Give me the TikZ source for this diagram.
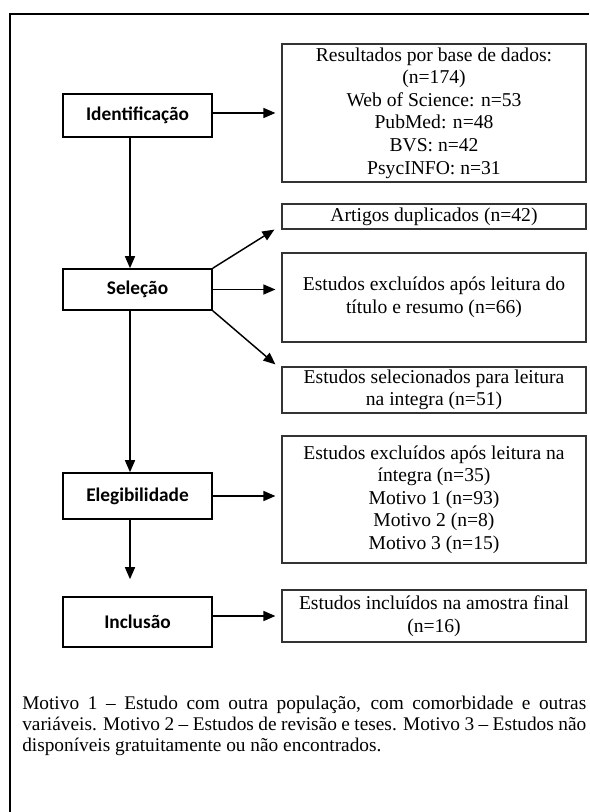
\documentclass[tikz,border=0pt]{standalone}
\usepackage{fontspec}
\setmainfont{Liberation Serif}
\newfontfamily\lblfont{Carlito}
\usetikzlibrary{arrows.meta,calc}
\begin{document}
\begin{tikzpicture}[x=0.75pt,y=-0.75pt]
\tikzset{
  lbox/.style={draw=black, line width=1.2pt, minimum width=111.75pt, inner sep=0pt,
    font=\lblfont\bfseries\fontsize{14.5}{17}\selectfont},
  rbox/.style={draw=black!80, line width=0.9pt, minimum width=228pt, inner sep=0pt,
    align=center, font=\fontsize{14.7}{16.9}\selectfont},
  arr/.style={line width=1.1pt, -{Triangle[length=9pt,width=7.5pt]}},
  frame/.style={line width=2.2pt, line join=miter}
}
\useasboundingbox (0,0) rectangle (589,812);
\fill[white] (0,0) rectangle (589,812);
% outer frame
\draw[frame] (589,14) -- (10,14) -- (10,812);

% left stage boxes
\node[lbox, minimum height=32.25pt] (id) at (137.5,115.5) {Identificação};
\node[lbox, minimum height=30.75pt] (sel) at (137.5,289.5) {Seleção};
\node[lbox, minimum height=34.5pt] (ele) at (137.5,496) {Elegibilidade};
\node[lbox, minimum height=37.5pt] (inc) at (137.5,622) {Inclusão};

% right boxes
\node[rbox, minimum height=103.5pt] (r1) at (434,113) {Resultados por base de dados:\\(n=174)\\Web of Science: n=53\\PubMed: n=48\\BVS: n=42\\PsycINFO: n=31};
\node[rbox, minimum height=18.75pt] (r2) at (434,216.5) {Artigos duplicados (n=42)};
\node[rbox, minimum height=66.75pt] (r3) at (434,297.5) {Estudos excluídos após leitura do\\título e resumo (n=66)};
\node[rbox, minimum height=34.5pt] (r4) at (434,390) {Estudos selecionados para leitura\\na integra (n=51)};
\node[rbox, minimum height=95.25pt] (r5) at (434,499.5) {Estudos excluídos após leitura na\\íntegra (n=35)\\Motivo 1 (n=93)\\Motivo 2 (n=8)\\Motivo 3 (n=15)};
\node[rbox, minimum height=39pt] (r6) at (434,616) {Estudos incluídos na amostra final\\(n=16)};

% helper coordinates
\coordinate (vx) at (130,0);
\coordinate (inctip) at ($(inc.north -| vx)+(0,-17)$);

% vertical flow
\draw[arr] (id.south -| vx) -- (sel.north -| vx);
\draw[arr] (sel.south -| vx) -- (ele.north -| vx);
\draw[arr] (ele.south -| vx) -- (inctip);

% horizontal / diagonal arrows
\draw[arr, shorten >=4.5pt] (r1.west -| id.east) -- (r1.west);
\draw[arr] (sel.north east) -- ($(r2.south west)+(-7,0)$);
\draw[arr, shorten >=4.5pt] (sel.east) -- (sel.east -| r3.west);
\draw[arr] (sel.south east) -- ($(r4.north west)+(-6,-2)$);
\draw[arr, shorten >=4.5pt] (ele.east) -- (ele.east -| r5.west);
\draw[arr, shorten >=4.5pt] (r6.west -| inc.east) -- (r6.west);

% caption
\node[anchor=base west, inner sep=0pt] (cap) at (22,709) {\parbox[t]{423pt}{\fontsize{14.5}{15.75}\selectfont\tolerance=10000\emergencystretch=20pt
Motivo 1 \textendash{} Estudo com outra população, com comorbidade e outras\linebreak
variáveis. Motivo 2 \textendash{} Estudos de revisão e teses. Motivo 3 \textendash{} Estudos não\linebreak
disponíveis gratuitamente ou não encontrados.}};
\end{tikzpicture}
\end{document}
